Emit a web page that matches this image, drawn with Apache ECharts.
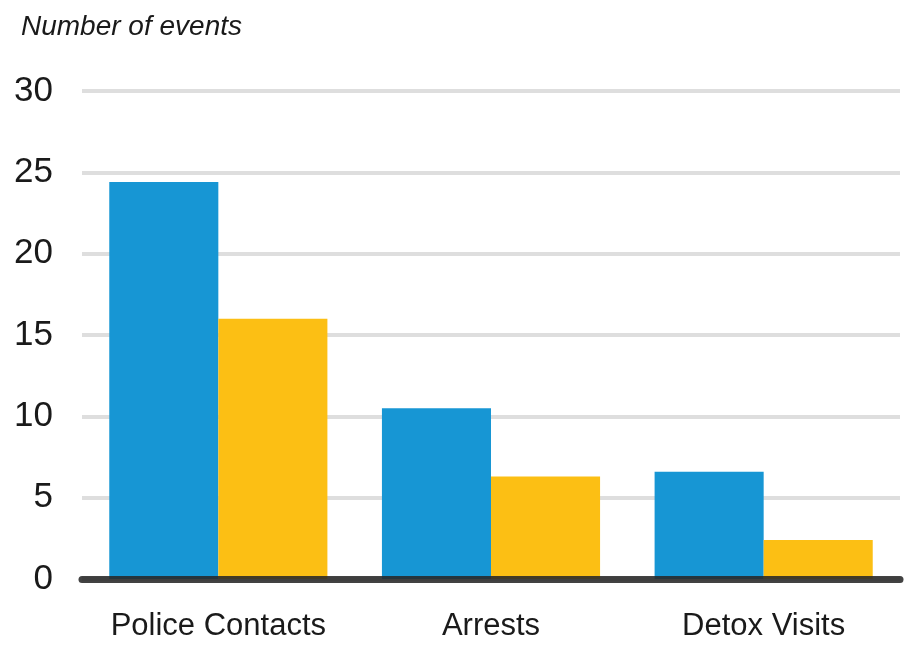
<!DOCTYPE html>
<html>
<head>
<meta charset="utf-8">
<script src="https://cdn.jsdelivr.net/npm/echarts@6/dist/echarts.min.js"></script>
<style>
  html, body { margin: 0; padding: 0; background: #ffffff; }
  #chart { width: 904px; height: 646px; }
</style>
</head>
<body>
<div id="chart"></div>
<script>
// Event counts per category, two groups
const categories = ['Police Contacts', 'Arrests', 'Detox Visits'];
const seriesA = [24.4, 10.5, 6.6];
const seriesB = [16.0, 6.3, 2.4];
const yTicks = [0, 5, 10, 15, 20, 25, 30];

const FONT = '"Liberation Sans", Arial, sans-serif';

const chart = echarts.init(document.getElementById('chart'), null, { renderer: 'canvas' });

chart.setOption({
  animation: false,
  backgroundColor: '#ffffff',
  title: {
    text: 'Number of events',
    left: 16,
    top: 8,
    textStyle: {
      fontFamily: FONT,
      fontStyle: 'italic',
      fontWeight: 'normal',
      fontSize: 28,
      color: '#1a1a1a'
    }
  },
  grid: { left: 82, right: 4, top: 91, bottom: 67, containLabel: false },
  xAxis: {
    type: 'category',
    data: categories,
    z: 10,
    axisTick: { show: false },
    axisLine: { show: true, lineStyle: { color: 'rgba(40,40,40,0.88)', width: 7 } },
    axisLabel: {
      interval: 0,
      margin: 32,
      fontFamily: FONT,
      fontSize: 31,
      color: '#1a1a1a'
    }
  },
  yAxis: {
    type: 'value',
    min: yTicks[0],
    max: yTicks[yTicks.length - 1],
    interval: 5,
    axisLine: { show: false },
    axisTick: { show: false },
    axisLabel: {
      margin: 29,
      fontFamily: FONT,
      fontSize: 35,
      color: '#1a1a1a'
    },
    splitLine: { show: true, lineStyle: { color: '#dedede', width: 4 } }
  },
  series: [
    {
      type: 'bar',
      data: seriesA,
      barGap: '0%',
      barCategoryGap: '20%',
      itemStyle: { color: '#1796d4' }
    },
    {
      type: 'bar',
      data: seriesB,
      itemStyle: { color: '#fcbf14' }
    }
  ]
});
</script>
</body>
</html>
